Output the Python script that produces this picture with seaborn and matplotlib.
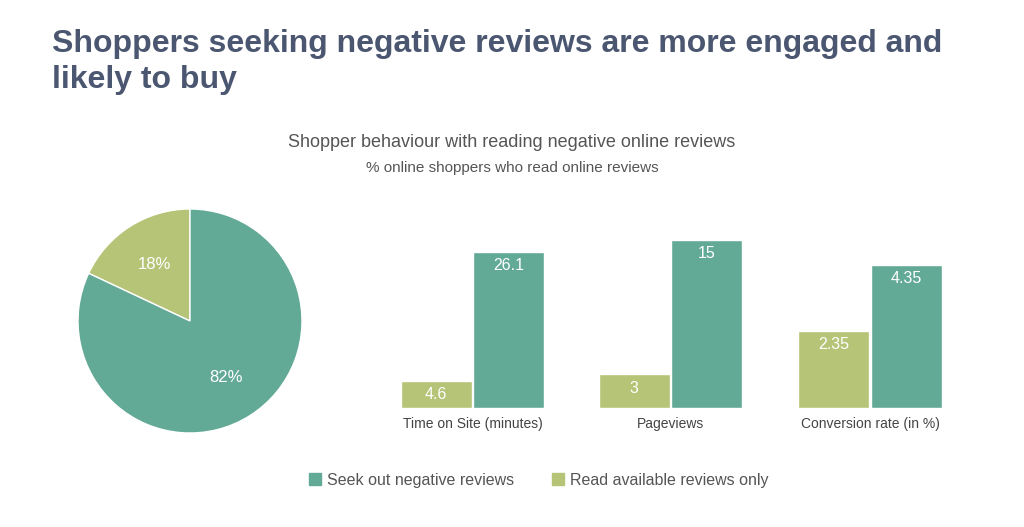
import numpy as np
import pandas as pd
import seaborn as sns
import matplotlib.pyplot as plt
from matplotlib.patches import Patch

sns.set_theme(style="white")
plt.rcParams["font.family"] = ["Liberation Sans", "DejaVu Sans"]

# data
pie_labels = ["Read available reviews only", "Seek out negative reviews"]
pie_values = [18, 82]
metrics = ["Time on Site (minutes)", "Pageviews", "Conversion rate (in %)"]
series = ["Read available reviews only", "Seek out negative reviews"]
read_only = [4.6, 3, 2.35]
seek_neg = [26.1, 15, 4.35]

TEAL = "#63aa96"
OLIVE = "#b5c477"
palette = {"Seek out negative reviews": TEAL, "Read available reviews only": OLIVE}

W, H = 1024, 527
fig = plt.figure(figsize=(W / 100, H / 100), dpi=100)

def px_axes(x0, y0, x1, y1):
    # pixel box (top-left origin) -> figure axes
    return fig.add_axes([x0 / W, 1 - y1 / H, (x1 - x0) / W, (y1 - y0) / H])

# titles
fig.text(52 / W, 1 - 62 / H, "Shoppers seeking negative reviews are more engaged and\nlikely to buy",
         fontsize=23, fontweight="bold", color="#4b5670", va="center", ha="left", linespacing=1.28)
fig.text(512 / W, 1 - 142 / H, "Shopper behaviour with reading negative online reviews",
         fontsize=13, color="#555555", ha="center", va="center")
fig.text(512 / W, 1 - 168 / H, "% online shoppers who read online reviews",
         fontsize=11, color="#555555", ha="center", va="center")

# pie
ax_pie = px_axes(78, 209, 302, 433)
wedges, _, autotexts = ax_pie.pie(pie_values, colors=[OLIVE, TEAL], startangle=90, counterclock=True,
                                  autopct="%d%%", pctdistance=0.6,
                                  wedgeprops=dict(edgecolor="white", linewidth=1),
                                  textprops=dict(color="white", fontsize=12))
ax_pie.set_xlim(-1, 1)
ax_pie.set_ylim(-1, 1)
ax_pie.set_aspect("equal")

# bars, one axes per metric with its own scale
df = pd.DataFrame({
    "metric": np.repeat(metrics, 2),
    "series": series * 3,
    "value": [v for pair in zip(read_only, seek_neg) for v in pair],
})

group_x = [(400, 545), (598, 743), (797, 943)]
ytops = [29.8, 15.9, 5.41]
for (x0, x1), m, ytop in zip(group_x, metrics, ytops):
    ax = px_axes(x0, 230, x1, 408)
    sub = df[df["metric"] == m]
    sns.barplot(data=sub, x="series", y="value", hue="series", order=series,
                palette=palette, width=0.98, legend=False, ax=ax, saturation=1)
    for p, v in zip(ax.patches, sub["value"]):
        ax.annotate(f"{v:g}", (p.get_x() + p.get_width() / 2, p.get_height()),
                    xytext=(0, -10), textcoords="offset points",
                    ha="center", va="center", color="white", fontsize=11.5)
    ax.set_xlim(-0.5, 1.5)
    ax.set_ylim(0, ytop)
    ax.axis("off")
    fig.text((x0 + x1) / 2 / W, 1 - 424 / H, m, fontsize=10, color="#444444",
             ha="center", va="center")

# legend
handles = [Patch(color=TEAL, label="Seek out negative reviews"),
           Patch(color=OLIVE, label="Read available reviews only")]
fig.legend(handles=handles, loc="center", bbox_to_anchor=(539 / W, 1 - 480 / H), ncol=2,
           frameon=False, fontsize=11.5, handlelength=0.7, handleheight=0.7,
           handletextpad=0.4, columnspacing=2.4, labelcolor="#555555")

fig.savefig("out.png", dpi=100)
